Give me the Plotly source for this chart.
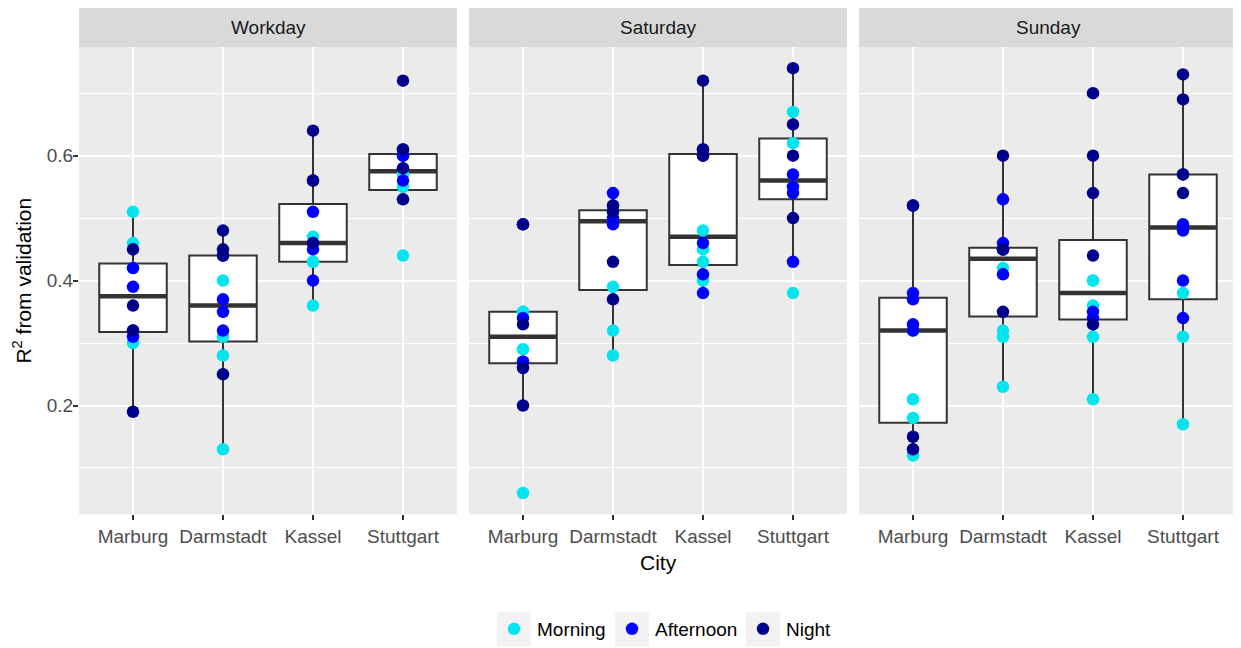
import numpy as np
import plotly.graph_objects as go

days = ["Workday", "Saturday", "Sunday"]
cities = ["Marburg", "Darmstadt", "Kassel", "Stuttgart"]
periods = ["Morning", "Afternoon", "Night"]
period_colors = ["#00E5EE", "#0000FF", "#00008B"]
y_ticks = [0.2, 0.4, 0.6]

# R^2 values per city (Marburg, Darmstadt, Kassel, Stuttgart)
workday_morning = [[0.51, 0.46, 0.30, 0.42], [0.40, 0.31, 0.28, 0.13], [0.47, 0.43, 0.43, 0.36], [0.57, 0.55, 0.44, 0.53]]
workday_afternoon = [[0.42, 0.39, 0.31, 0.32], [0.37, 0.35, 0.32, 0.44], [0.51, 0.46, 0.45, 0.40], [0.60, 0.60, 0.56, 0.61]]
workday_night = [[0.45, 0.36, 0.32, 0.19], [0.48, 0.45, 0.44, 0.25], [0.64, 0.56, 0.56, 0.46], [0.72, 0.61, 0.58, 0.53]]
saturday_morning = [[0.35, 0.35, 0.29, 0.06], [0.39, 0.32, 0.28, 0.51], [0.48, 0.45, 0.43, 0.40], [0.67, 0.62, 0.55, 0.38]]
saturday_afternoon = [[0.34, 0.27, 0.27, 0.49], [0.54, 0.52, 0.50, 0.49], [0.61, 0.46, 0.41, 0.38], [0.57, 0.55, 0.54, 0.43]]
saturday_night = [[0.49, 0.33, 0.26, 0.20], [0.52, 0.51, 0.43, 0.37], [0.72, 0.61, 0.60, 0.60], [0.74, 0.65, 0.60, 0.50]]
sunday_morning = [[0.32, 0.21, 0.18, 0.12], [0.42, 0.32, 0.31, 0.23], [0.40, 0.40, 0.36, 0.31, 0.21], [0.38, 0.31, 0.17]]
sunday_afternoon = [[0.38, 0.37, 0.33, 0.32], [0.53, 0.46, 0.45, 0.41], [0.35, 0.34], [0.49, 0.48, 0.40, 0.34]]
sunday_night = [[0.52, 0.52, 0.15, 0.13], [0.60, 0.45, 0.45, 0.35], [0.70, 0.60, 0.54, 0.44, 0.33], [0.73, 0.69, 0.57, 0.57, 0.54]]

day_data = [
    [workday_morning, workday_afternoon, workday_night],
    [saturday_morning, saturday_afternoon, saturday_night],
    [sunday_morning, sunday_afternoon, sunday_night],
]

OFF = 8  # page body margin of the html page
W, H = 1241 - OFF, 648 - OFF
panels_px = [(79, 457), (469, 847), (859, 1237)]
top_px, bot_px = 47, 515
strip_top_px = 8
legend_dot_px = [514, 632, 763]
legend_y_px = 630
FONT = "Liberation Sans, Arial, sans-serif"
BOXW = 0.75
TICK_SIZE = 19
TITLE_SIZE = 21
ITEMW = 36


def fx(px):
    return (px - OFF) / W


def fy(py):
    return 1 - (py - OFF) / H


all_vals = [v for d in day_data for p in d for c in p for v in c]
vmin, vmax = min(all_vals), max(all_vals)
pad = 0.05 * (vmax - vmin)
yrange = [vmin - pad, vmax + pad]

fig = go.Figure()


def box_stats(vals):
    a = np.array(vals)
    q1, med, q3 = np.percentile(a, [25, 50, 75])
    iqr = q3 - q1
    lo = a[a >= q1 - 1.5 * iqr - 1e-12].min()
    hi = a[a <= q3 + 1.5 * iqr + 1e-12].max()
    return q1, med, q3, lo, hi


for di, day in enumerate(days):
    xa = "x" if di == 0 else f"x{di+1}"
    ya = "y" if di == 0 else f"y{di+1}"
    for ci, city in enumerate(cities):
        vals = [v for p in day_data[di] for v in p[ci]]
        q1, med, q3, lo, hi = box_stats(vals)
        fig.add_trace(go.Box(
            x=[ci], q1=[q1], median=[med], q3=[q3], lowerfence=[lo], upperfence=[hi],
            width=BOXW, whiskerwidth=0, fillcolor="white",
            line=dict(color="#333333", width=2), boxpoints=False,
            showlegend=False, hoverinfo="skip", xaxis=xa, yaxis=ya,
        ))
        fig.add_trace(go.Scatter(
            x=[ci - BOXW / 2, ci + BOXW / 2], y=[med, med], mode="lines",
            line=dict(color="#333333", width=4.5), showlegend=False,
            hoverinfo="skip", xaxis=xa, yaxis=ya,
        ))

legend_names = ["legend", "legend2", "legend3"]
for di, day in enumerate(days):
    xa = "x" if di == 0 else f"x{di+1}"
    ya = "y" if di == 0 else f"y{di+1}"
    for pi, period in enumerate(periods):
        xs, ys = [], []
        for ci in range(len(cities)):
            for v in day_data[di][pi][ci]:
                xs.append(ci)
                ys.append(v)
        fig.add_trace(go.Scatter(
            x=xs, y=ys, mode="markers", name=period, legendgroup=period,
            legend=legend_names[pi], showlegend=(di == 0),
            marker=dict(color=period_colors[pi], size=12.5, line=dict(width=0)),
            xaxis=xa, yaxis=ya,
        ))

layout = dict(
    width=W, height=H, margin=dict(l=0, r=0, t=0, b=0),
    paper_bgcolor="white", plot_bgcolor="#EBEBEB",
    font=dict(family=FONT, size=TICK_SIZE, color="#4D4D4D"),
    showlegend=True,
)
for li, lname in enumerate(legend_names):
    layout[lname] = dict(
        orientation="v", x=fx(legend_dot_px[li] - (ITEMW / 2 + 5)), xanchor="left",
        y=fy(legend_y_px), yanchor="middle", borderwidth=0,
        font=dict(size=TICK_SIZE, color="#000000", family=FONT),
        bgcolor="rgba(0,0,0,0)", itemwidth=ITEMW,
    )

shapes, annotations = [], []
for di, (x0, x1) in enumerate(panels_px):
    key = "" if di == 0 else str(di + 1)
    layout["xaxis" + key] = dict(
        domain=[fx(x0), fx(x1)], anchor="y" + key, range=[-0.6, 3.6],
        tickvals=list(range(len(cities))), ticktext=cities,
        showgrid=True, gridcolor="white", gridwidth=2, zeroline=False,
        ticks="outside", ticklen=5, tickcolor="#333333", tickwidth=1.5,
        tickfont=dict(size=TICK_SIZE, color="#4D4D4D"), showline=False,
    )
    layout["yaxis" + key] = dict(
        domain=[fy(bot_px), fy(top_px)], anchor="x" + key, range=yrange,
        tickvals=y_ticks, ticktext=[f"{t:.1f}" for t in y_ticks],
        showgrid=True, gridcolor="white", gridwidth=2, zeroline=False,
        minor=dict(dtick=0.1, tick0=0, showgrid=True, gridcolor="white", gridwidth=1, ticks=""),
        ticks="outside" if di == 0 else "", ticklen=5, tickcolor="#333333", tickwidth=1.5,
        ticklabelstandoff=-4,
        showticklabels=(di == 0), tickfont=dict(size=TICK_SIZE, color="#4D4D4D"),
    )
    shapes.append(dict(type="rect", xref="paper", yref="paper",
                       x0=fx(x0), x1=fx(x1), y0=fy(top_px), y1=fy(strip_top_px),
                       fillcolor="#D9D9D9", line=dict(width=0), layer="below"))
    annotations.append(dict(text=days[di], xref="paper", yref="paper",
                            x=fx((x0 + x1) / 2), y=fy((top_px + strip_top_px) / 2),
                            showarrow=False, xanchor="center", yanchor="middle",
                            font=dict(size=TICK_SIZE, color="#1A1A1A", family=FONT)))

# legend key backgrounds
for cx in legend_dot_px:
    shapes.append(dict(type="rect", xref="paper", yref="paper",
                       x0=fx(cx - 17), x1=fx(cx + 17), y0=fy(legend_y_px + 17), y1=fy(legend_y_px - 17),
                       fillcolor="#F2F2F2", line=dict(width=0), layer="below"))

annotations.append(dict(text="City", xref="paper", yref="paper", x=fx(658), y=fy(563),
                        showarrow=False, xanchor="center", yanchor="middle",
                        font=dict(size=TITLE_SIZE, color="#000000", family=FONT)))
annotations.append(dict(text="R<sup>2</sup> from validation", xref="paper", yref="paper",
                        x=fx(22), y=fy(281), textangle=-90,
                        showarrow=False, xanchor="center", yanchor="middle",
                        font=dict(size=TITLE_SIZE, color="#000000", family=FONT)))
layout["shapes"] = shapes
layout["annotations"] = annotations
fig.update_layout(**layout)
fig.write_html("out.html")
